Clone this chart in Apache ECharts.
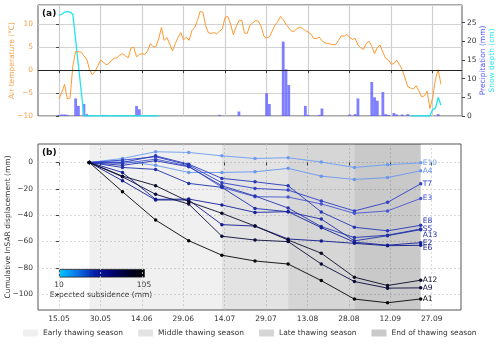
<!DOCTYPE html>
<html>
<head>
<meta charset="utf-8">
<script src="https://cdn.jsdelivr.net/npm/echarts@6/dist/echarts.min.js"></script>
<style>
html, body { margin: 0; padding: 0; background: #fff; }
#chart { width: 500px; height: 347px; }
</style>
</head>
<body>
<div id="chart"></div>
<script>
// x = days after 15.05
var tickDays = [0, 15, 30, 45, 60, 75, 90, 105, 120, 135];
var tickLabels = ['15.05', '30.05', '14.06', '29.06', '14.07', '29.07', '13.08', '28.08', '12.09', '27.09'];

// (a) daily air temperature (°C), day 0 .. 138
var airTemp = [
  -6.3, -4.8, -3.1, -6.3, -6.0, 0.9, 4.1, 4.0, 3.9, 3.1,
  2.4, 0.2, -1.0, -0.3, 0.9, 2.2, 1.7, 1.2, 1.4, 2.2,
  2.6, 2.7, 3.3, 3.6, 3.1, 2.7, 4.8, 5.0, 2.9, 3.4,
  3.6, 3.4, 4.2, 5.8, 5.1, 5.1, 6.8, 9.3, 6.5, 7.1,
  5.7, 4.2, 5.8, 7.1, 8.2, 6.6, 7.2, 6.5, 8.6, 9.3,
  10.8, 12.8, 12.6, 9.7, 8.1, 8.0, 8.2, 7.9, 8.5, 9.0,
  11.5, 11.7, 10.0, 7.7, 9.5, 10.8, 10.9, 8.1, 8.0, 9.8,
  10.3, 10.8, 10.7, 9.6, 7.4, 7.0, 7.3, 8.5, 9.8, 10.6,
  11.7, 11.0, 10.0, 9.2, 8.5, 8.5, 9.1, 9.3, 9.1, 8.6,
  8.3, 7.9, 6.9, 6.9, 7.2, 6.4, 6.0, 5.8, 5.7, 5.5,
  5.6, 6.5, 7.5, 7.4, 7.8, 7.1, 6.7, 6.9, 5.5, 4.9,
  4.5, 5.8, 6.3, 5.2, 3.6, 4.9, 5.5, 3.9, 2.6, 2.2,
  1.3, 1.4, 2.2, 1.2, 0.1, -1.7, -3.6, -3.9, -4.1, -3.4,
  -4.5, -5.8, -5.6, -4.6, -8.4, -6.0, -2.0, 0.1, -3.1
];

// daily precipitation (mm)
var precipDays = [0, 1, 2, 3, 6, 7, 9, 10, 16, 28, 29, 58, 65, 75, 76, 81, 82, 83, 89, 90,
  94, 95, 105, 107, 108, 113, 114, 115, 117, 118, 119, 121, 122, 124, 126, 130, 137];
var precipMm = [0.3, 0.4, 0.4, 0.3, 4.7, 2.7, 3.2, 0.5, 0.3, 2.7, 1.8, 0.3, 1.2, 6.1, 3.2, 19.9, 12.5, 8.3, 2.7, 0.3,
  0.3, 2.0, 0.4, 0.5, 4.7, 9.1, 5.0, 4.1, 6.4, 0.5, 0.3, 0.8, 0.4, 0.4, 0.5, 0.2, 0.5];

// snow depth (cm), null = no record
var snowDays = [0, 1, 2, 3, 4, 5, 9, 36, 80, 127, 134, 135, 136, 137, 138];
var snowCm = [27.0, 27.2, 27.8, 27.9, 27.8, 27.2, 0, 0, null, 0, 0, 1.8, 2.0, 5.0, 2.9];

// (b) cumulative InSAR displacement (mm) at the acquisition dates
var obsDays = [11, 23, 35, 47, 59, 71, 83, 95, 107, 119, 131];
var E10 = [0, 3.0, 8.1, 7.6, 5.0, 3.0, 3.6, 0.3, -3.8, -1.7, -0.3];
var A4 = [0, 1.2, -2.2, -7.6, -7.6, -7.1, -4.5, -10.4, -12.9, -11.5, -6.3];
var T7 = [0, 1.8, 4.3, -2.0, -15.4, -19.7, -21.0, -29.2, -36.8, -30.3, -16.2];
var E3 = [0, -0.8, 2.5, -2.8, -18.9, -26.0, -26.3, -31.5, -38.6, -36.8, -27.3];
var E8 = [0, 0.0, 5.0, -1.3, -12.1, -14.7, -17.7, -37.6, -49.2, -51.9, -47.7];
var S5 = [0, -2.2, 1.3, -3.3, -17.7, -25.5, -34.6, -48.7, -57.0, -55.2, -50.5];
var A13 = [0, -3.8, -5.3, -15.9, -18.9, -34.9, -37.4, -43.0, -59.5, -55.6, -51.0];
var E2 = [0, -7.6, -28.0, -27.8, -32.3, -37.9, -37.4, -49.5, -60.5, -62.8, -60.9];
var E6 = [0, -13.9, -28.5, -28.5, -47.2, -48.3, -58.1, -59.6, -61.4, -63.2, -62.9];
var A12 = [0, -10.4, -17.6, -29.8, -38.6, -48.3, -58.9, -68.9, -87.1, -93.4, -89.4];
var A9 = [0, -10.9, -24.2, -31.6, -56.0, -58.9, -60.1, -77.1, -90.4, -95.4, -95.2];
var A1 = [0, -22.2, -43.7, -59.4, -70.4, -74.8, -77.1, -89.7, -103.7, -106.5, -103.6];
var dispTicks = [-100, -80, -60, -40, -20, 0];

var seasonNames = ['Early thawing season', 'Middle thawing season', 'Late thawing season', 'End of thawing season'];
var seasonBounds = [11, 59, 83, 107, 131];

var sites = [
  ['E10', E10], ['A4', A4], ['T7', T7], ['E3', E3], ['E8', E8], ['S5', S5],
  ['A13', A13], ['E2', E2], ['E6', E6], ['A12', A12], ['A9', A9], ['A1', A1]
];
var siteColor = {
  E10: '#6d9cf2', A4: '#6a96ee', T7: '#3040c8', E3: '#4a56d0', E8: '#2838b8', S5: '#2434b2',
  A13: '#2030aa', E2: '#17229a', E6: '#121b8e', A12: '#0c0c26', A9: '#0b0b3c', A1: '#050505'
};
var labelShift = { E8: [0, -4], A13: [0, 5], E6: [0, 3] };
var seasonColor = ['rgba(0,0,0,0.06)', 'rgba(0,0,0,0.11)', 'rgba(0,0,0,0.16)', 'rgba(0,0,0,0.21)'];

var FONT = 'DejaVu Sans';
function minus(v) { return String(v).replace('-', '\u2212'); }
function dateLabel(v) {
  var i = tickDays.indexOf(v);
  return i < 0 ? '' : tickLabels[i];
}

var chart = echarts.init(document.getElementById('chart'));

var series = [];

// top panel
series.push({
  name: 'Precipitation', type: 'bar', xAxisIndex: 0, yAxisIndex: 1,
  barWidth: 2.8,
  itemStyle: { color: 'rgba(95,95,255,0.8)' },
  data: precipDays.map(function (d, i) { return [d, precipMm[i]]; })
});
series.push({
  name: 'Snow depth', type: 'line', xAxisIndex: 0, yAxisIndex: 1,
  showSymbol: false, connectNulls: false,
  lineStyle: { color: '#22e4ee', width: 1.3 },
  data: snowDays.map(function (d, i) { return [d, snowCm[i] === null ? '-' : snowCm[i]]; })
});
series.push({
  name: 'Air temperature', type: 'line', xAxisIndex: 0, yAxisIndex: 0,
  showSymbol: false,
  lineStyle: { color: '#ff982e', width: 1 },
  data: airTemp.map(function (t, d) { return [d, t]; }),
  markLine: {
    silent: true, symbol: 'none', label: { show: false },
    lineStyle: { color: '#222', width: 1.2, type: 'solid' },
    data: [{ yAxis: 0 }]
  }
});

// bottom panel: thawing season bands
seasonNames.forEach(function (name, i) {
  series.push({
    name: name, type: 'line', xAxisIndex: 1, yAxisIndex: 2,
    data: [],
    itemStyle: { color: seasonColor[i] },
    lineStyle: { color: seasonColor[i] },
    markArea: {
      silent: true,
      itemStyle: { color: seasonColor[i] },
      data: [[{ xAxis: seasonBounds[i] }, { xAxis: seasonBounds[i + 1] }]]
    }
  });
});

// bottom panel: site displacement lines
sites.forEach(function (s) {
  var name = s[0], vals = s[1], c = siteColor[name];
  series.push({
    name: name, type: 'line', xAxisIndex: 1, yAxisIndex: 2,
    symbol: 'circle', symbolSize: 3.5,
    lineStyle: { color: c, width: 1, opacity: 0.9 },
    itemStyle: { color: c },
    data: obsDays.map(function (d, i) { return [d, vals[i]]; }),
    endLabel: {
      show: true, formatter: '{a}', color: c, fontSize: 7.5, fontFamily: FONT,
      distance: 2, offset: labelShift[name] || [0, 0]
    }
  });
});

var xCommon = {
  type: 'value', min: -7.6, max: 145.6,
  axisLine: { show: false },
  axisTick: { show: true, customValues: tickDays, length: 3, lineStyle: { color: '#444' } }
};

chart.setOption({
  animation: false,
  textStyle: { fontFamily: FONT },
  grid: [
    { left: 38, right: 38, top: 5, height: 111, containLabel: false, outerBoundsMode: 'none',
      show: true, borderColor: '#555', borderWidth: 1 },
    { left: 38, right: 39, top: 144, height: 166, containLabel: false, outerBoundsMode: 'none',
      show: true, borderColor: '#555', borderWidth: 1 }
  ],
  xAxis: [
    Object.assign({}, xCommon, {
      gridIndex: 0,
      axisLabel: { show: false, customValues: tickDays },
      splitLine: { show: true, lineStyle: { color: '#cfcfcf', width: 1.2 } }
    }),
    Object.assign({}, xCommon, {
      gridIndex: 1,
      axisLabel: { show: true, customValues: tickDays, formatter: dateLabel, fontSize: 7.5, color: '#333', margin: 5 },
      splitLine: { show: true, lineStyle: { color: '#d4d4d4', width: 0.8, type: [2, 2] } }
    })
  ],
  yAxis: [
    {
      gridIndex: 0, type: 'value', min: -10, max: 14.2, interval: 5,
      name: 'Air temperature (°C)', nameLocation: 'middle', nameGap: 22, nameMoveOverlap: false,
      nameTextStyle: { color: '#f5a04a', fontSize: 7.5 },
      axisLine: { show: false },
      axisTick: { show: true, length: 3, lineStyle: { color: '#444' } },
      axisLabel: { color: '#f5a04a', fontSize: 7.5, margin: 5, showMaxLabel: false, formatter: minus },
      splitLine: { show: true, lineStyle: { color: '#d2d2d2', width: 1 } }
    },
    {
      gridIndex: 0, type: 'value', min: 0, max: 29.7, interval: 5, position: 'right',
      name: '{p|Precipitation (mm)}\n{s|Snow depth (cm)}', nameLocation: 'middle', nameGap: 17,
      nameRotate: 90, nameMoveOverlap: false,
      nameTextStyle: {
        fontSize: 7.5, lineHeight: 9,
        rich: { p: { color: '#5050ff', fontSize: 7.5 }, s: { color: '#2ee6f0', fontSize: 7.5 } }
      },
      axisLine: { show: false },
      axisTick: { show: true, length: 3, lineStyle: { color: '#444' } },
      axisLabel: { color: '#333', fontSize: 7.5, margin: 5, showMaxLabel: false },
      splitLine: { show: false }
    },
    {
      gridIndex: 1, type: 'value', min: -112, max: 14,
      name: 'Cumulative InSAR displacement (mm)', nameLocation: 'middle', nameGap: 26, nameMoveOverlap: false,
      nameTextStyle: { color: '#333', fontSize: 7.5 },
      axisLine: { show: false },
      axisTick: { show: true, length: 3, customValues: dispTicks, lineStyle: { color: '#444' } },
      axisLabel: { color: '#333', fontSize: 7.5, margin: 5, customValues: dispTicks, formatter: minus },
      splitLine: { show: true, lineStyle: { color: '#d4d4d4', width: 0.8, type: [2, 2] } }
    }
  ],
  legend: {
    data: seasonNames, left: 18, bottom: 5, icon: 'rect',
    itemWidth: 15, itemHeight: 7, itemGap: 15,
    textStyle: { fontSize: 7.5, color: '#333' }
  },
  graphic: [
    { type: 'text', left: 42, top: 9, style: { text: '(a)', font: 'bold 9px "DejaVu Sans"', fill: '#111' } },
    { type: 'text', left: 42, top: 148, style: { text: '(b)', font: 'bold 9px "DejaVu Sans"', fill: '#111' } },
    {
      type: 'rect', left: 59, top: 269,
      shape: { width: 85, height: 7.7 },
      style: {
        fill: new echarts.graphic.LinearGradient(0, 0, 1, 0, [
          { offset: 0, color: '#00c8ff' },
          { offset: 0.2, color: '#0a78e6' },
          { offset: 0.42, color: '#0620b4' },
          { offset: 0.62, color: '#000078' },
          { offset: 0.82, color: '#00002a' },
          { offset: 1, color: '#000000' }
        ]),
        stroke: '#222', lineWidth: 0.8
      }
    },
    { type: 'text', x: 59, y: 281, style: { text: '10', align: 'center', font: '7.5px "DejaVu Sans"', fill: '#333' } },
    { type: 'text', x: 144, y: 281, style: { text: '105', align: 'center', font: '7.5px "DejaVu Sans"', fill: '#333' } },
    { type: 'text', x: 101, y: 291, style: { text: 'Expected subsidence (mm)', align: 'center', font: '7.5px "DejaVu Sans"', fill: '#333' } }
  ],
  series: series
});
</script>
</body>
</html>
